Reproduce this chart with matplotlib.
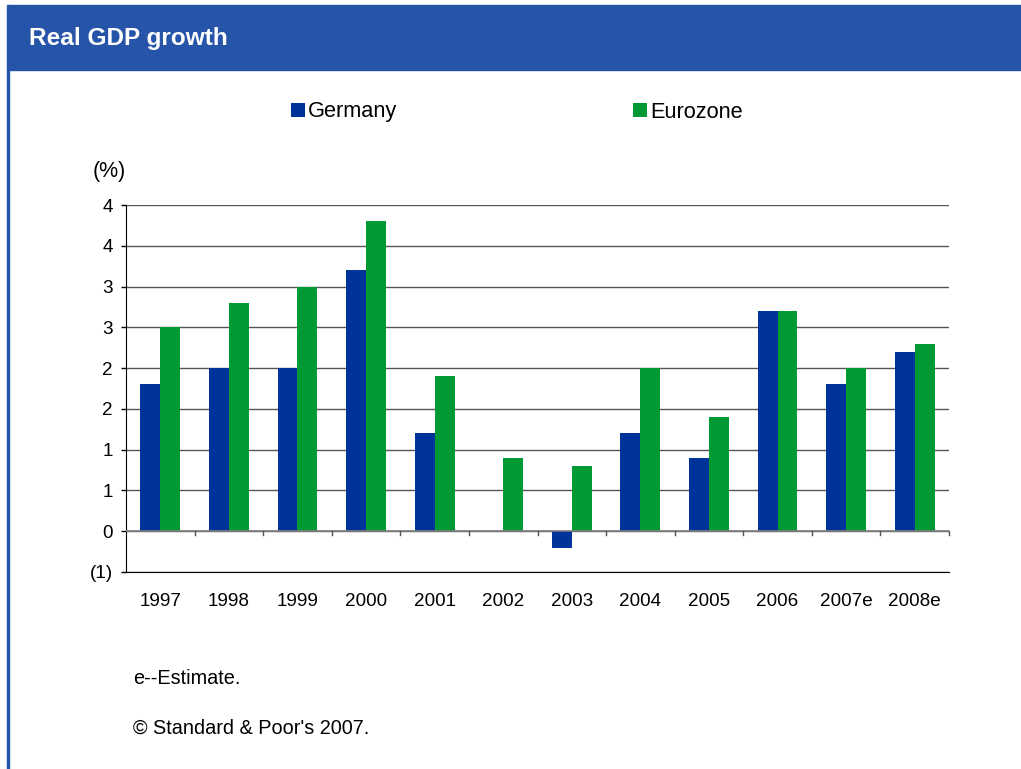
import math
import matplotlib
matplotlib.use('Agg')
import matplotlib.pyplot as plt
from matplotlib.patches import Rectangle
from matplotlib.ticker import FuncFormatter, MultipleLocator

plt.rcParams['font.family'] = ['Liberation Sans', 'DejaVu Sans']

years = ['1997', '1998', '1999', '2000', '2001', '2002', '2003', '2004',
         '2005', '2006', '2007e', '2008e']
germany = [1.8, 2.0, 2.0, 3.2, 1.2, 0.0, -0.2, 1.2, 0.9, 2.7, 1.8, 2.2]
eurozone = [2.5, 2.8, 3.0, 3.8, 1.9, 0.9, 0.8, 2.0, 1.4, 2.7, 2.0, 2.3]

BLUE = '#003399'
GREEN = '#009933'
HEADER = '#2554A8'


def pct_label(v, pos):
    # whole-number labels, rounded half away from zero, negatives in brackets
    r = int(math.floor(abs(v) + 0.5 + 1e-9))
    return f'({r})' if v < 0 else f'{r}'


fig = plt.figure(figsize=(10.21, 7.69), dpi=100)

# header band and left border
fig.patches.append(Rectangle((8 / 1021, 1 - 70 / 769), 1, 65 / 769,
                             transform=fig.transFigure, color=HEADER, zorder=0))
fig.patches.append(Rectangle((7 / 1021, 0), 2 / 1021, 1 - 5 / 769,
                             transform=fig.transFigure, color=HEADER, zorder=0))
fig.text(29 / 1021, 1 - 38 / 769, 'Real GDP growth', color='white',
         fontsize=17.6, fontweight='bold', va='center', ha='left')

ax = fig.add_axes([126 / 1021, 1 - 572 / 769, 823 / 1021, 367 / 769])

x = list(range(len(years)))
w = 0.29
b1 = ax.bar([i - w / 2 for i in x], germany, width=w, color=BLUE, zorder=3)
b2 = ax.bar([i + w / 2 for i in x], eurozone, width=w, color=GREEN, zorder=3)

ax.set_xlim(-0.5, len(years) - 0.5)
ax.set_ylim(-0.5, 4.0)
ax.yaxis.set_major_locator(MultipleLocator(0.5))
ax.yaxis.set_major_formatter(FuncFormatter(pct_label))
ax.yaxis.grid(True, color='#555555', linewidth=1.0, zorder=0)
ax.axhline(0, color='#808080', linewidth=1.2, zorder=4)

# category separators hanging below the zero line
for bnd in [i + 0.5 for i in x]:
    ax.plot([bnd, bnd], [0, -0.05], color='#555555', linewidth=1.0,
            zorder=4, clip_on=False)

ax.set_xticks(x)
ax.set_xticklabels(years)
ax.tick_params(axis='x', length=0, pad=15, labelsize=13.6)
ax.tick_params(axis='y', length=3.6, width=1, pad=6, labelsize=13.6,
               direction='out')
for s in ['top', 'right']:
    ax.spines[s].set_visible(False)
ax.spines['left'].set_color('black')
ax.spines['bottom'].set_color('black')
ax.set_axisbelow(True)

fig.text(93 / 1021, 1 - 172 / 769, '(%)', fontsize=15.5, va='center', ha='left')

fig.legend([b1, b2], ['Germany', 'Eurozone'], ncol=2, frameon=False,
           loc='center left', bbox_to_anchor=(291 / 1021, 1 - 112 / 769),
           fontsize=15.7, handlelength=0.64, handleheight=0.64,
           handletextpad=0.15, columnspacing=10.8, borderpad=0,
           borderaxespad=0)

fig.text(133 / 1021, 1 - 679 / 769, 'e--Estimate.', fontsize=14.3,
         va='center', ha='left')
fig.text(133 / 1021, 1 - 728 / 769, "\u00a9 Standard & Poor's 2007.",
         fontsize=14.3, va='center', ha='left')

fig.savefig('out.png', dpi=100)
